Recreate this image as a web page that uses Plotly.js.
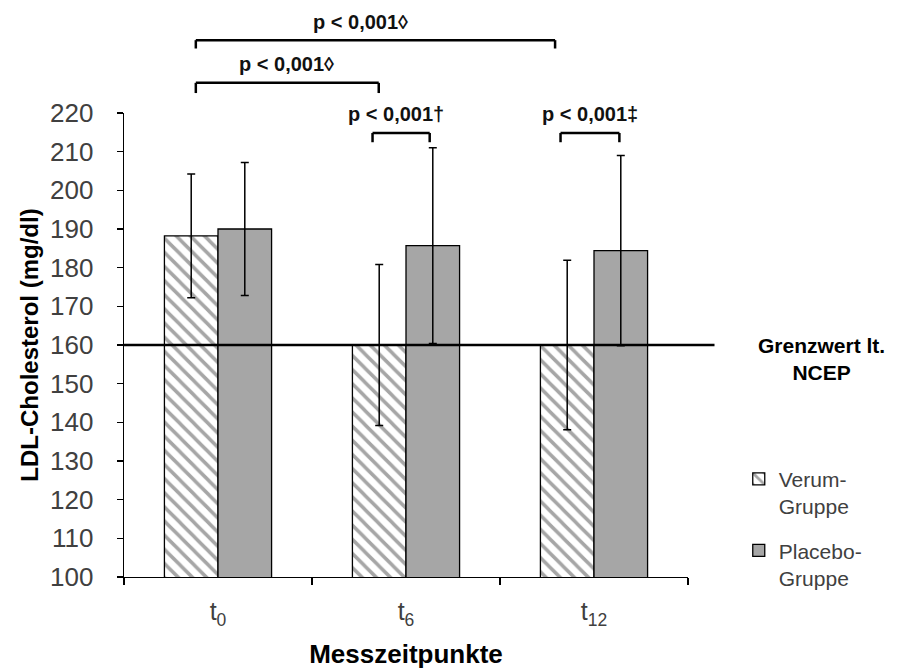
<!DOCTYPE html>
<html>
<head>
<meta charset="utf-8">
<script src="https://cdn.plot.ly/plotly-3.0.1.min.js"></script>
<style>html,body{margin:0;padding:0;background:#fff;}#chart{width:902px;height:671px;}</style>
</head>
<body>
<div id="chart"></div>
<script>
// ---- data ----
const categories = ['t<sub>0</sub>', 't<sub>6</sub>', 't<sub>12</sub>'];
const verumMeans = [188.2, 160.0, 160.0];
const verumSD = [16.0, 20.8, 21.9];
const placeboMeans = [190.0, 185.7, 184.4];
const placeboSD = [17.2, 25.3, 24.6];
const seriesNames = ['Verum-<br>Gruppe', 'Placebo-<br>Gruppe'];
const threshold = 160;
const thresholdLabel = '<b>Grenzwert lt.<br>NCEP</b>';
const yTicks = [100, 110, 120, 130, 140, 150, 160, 170, 180, 190, 200, 210, 220];
// significance brackets: [from (category units), to, label]
const bracketFrom = [-0.118, -0.118, 0.822, 1.822];
const bracketTo = [1.793, 0.855, 1.126, 2.135];
const bracketLabels = ['p < 0,001◊', 'p < 0,001◊', 'p < 0,001†', 'p < 0,001‡'];

// ---- layout helpers ----
const bracketY = [1.157, 1.065, 0.957, 0.957];
const bracketDrop = [0.018, 0.022, 0.02, 0.02];
const labelX = [0.758, 0.365, 0.948, 1.981];
const labelY = [1.196, 1.106, 0.998, 0.998];

const FONT = 'Liberation Sans, Arial, sans-serif';

const traces = [
  {
    type: 'bar', name: seriesNames[0], x: categories, y: verumMeans, legendgroup: 'a',
    marker: {
      color: 'white',
      line: {color: '#000', width: 1.3},
      pattern: {shape: '\\', fgcolor: '#a6a6a6', bgcolor: 'white', size: 10, solidity: 0.35}
    },
    error_y: {type: 'data', array: verumSD, visible: true, color: '#000', thickness: 1.5, width: 4}
  },
  {
    type: 'bar', name: seriesNames[1], x: categories, y: placeboMeans, legendgroup: 'b',
    marker: {color: '#a6a6a6', line: {color: '#000', width: 1.3}},
    error_y: {type: 'data', array: placeboSD, visible: true, color: '#000', thickness: 1.5, width: 4}
  }
];

const shapes = [
  {type: 'line', xref: 'paper', yref: 'y', x0: 0, x1: 1.047, y0: threshold, y1: threshold,
   line: {color: '#000', width: 2.5}, layer: 'above'}
];
const annotations = [
  {xref: 'paper', yref: 'y', x: 1.237, y: threshold, text: thresholdLabel, showarrow: false,
   xanchor: 'center', yanchor: 'middle', yshift: -14, font: {family: FONT, size: 21, color: '#000'}, align: 'center'}
];
for (let i = 0; i < bracketLabels.length; i++) {
  const y = bracketY[i], d = bracketDrop[i];
  const ln = {color: '#000', width: 2.5};
  shapes.push({type: 'line', xref: 'x', yref: 'paper', x0: bracketFrom[i], x1: bracketTo[i], y0: y, y1: y, line: ln});
  shapes.push({type: 'line', xref: 'x', yref: 'paper', x0: bracketFrom[i], x1: bracketFrom[i], y0: y, y1: y - d, line: ln});
  shapes.push({type: 'line', xref: 'x', yref: 'paper', x0: bracketTo[i], x1: bracketTo[i], y0: y, y1: y - d, line: ln});
  annotations.push({xref: 'x', yref: 'paper', x: labelX[i], y: labelY[i], text: '<b>' + bracketLabels[i] + '</b>',
    showarrow: false, xanchor: 'center', yanchor: 'middle', font: {family: FONT, size: 20, color: '#111'}});
}

const layout = {
  width: 902, height: 671,
  margin: {l: 124, r: 214, t: 113, b: 94},
  paper_bgcolor: '#fff', plot_bgcolor: '#fff',
  font: {family: FONT, color: '#404040'},
  barmode: 'group', bargap: 0.43, bargroupgap: 0,
  showlegend: true,
  legend: {x: 1.09, xanchor: 'left', y: 0.255, yanchor: 'top', valign: 'top',
    font: {family: FONT, size: 21, color: '#404040'}, tracegroupgap: 14,
    traceorder: 'grouped', itemwidth: 30, bgcolor: 'rgba(0,0,0,0)'},
  xaxis: {
    type: 'category', range: [-0.5, 2.5], showline: true, linecolor: '#000', linewidth: 1.3,
    ticks: 'outside', tickson: 'boundaries', ticklen: 7, tickcolor: '#000', tickwidth: 1.3,
    showgrid: false, zeroline: false, ticklabelstandoff: 12,
    tickfont: {family: FONT, size: 25, color: '#404040'},
    title: {text: '<b>Messzeitpunkte</b>', font: {family: FONT, size: 26, color: '#000'}, standoff: 16}
  },
  yaxis: {
    range: [100, 220], tickvals: yTicks, showline: true, linecolor: '#000', linewidth: 1.3,
    ticks: 'outside', ticklen: 6, tickcolor: '#000', tickwidth: 1.3,
    showgrid: false, zeroline: false, ticklabelstandoff: 18,
    tickfont: {family: FONT, size: 26, color: '#404040'},
    title: {text: '<b>LDL-Cholesterol (mg/dl)</b>', font: {family: FONT, size: 24, color: '#000'}, standoff: 4}
  },
  shapes: shapes,
  annotations: annotations
};

Plotly.newPlot('chart', traces, layout, {displayModeBar: false, staticPlot: true});
</script>
</body>
</html>
